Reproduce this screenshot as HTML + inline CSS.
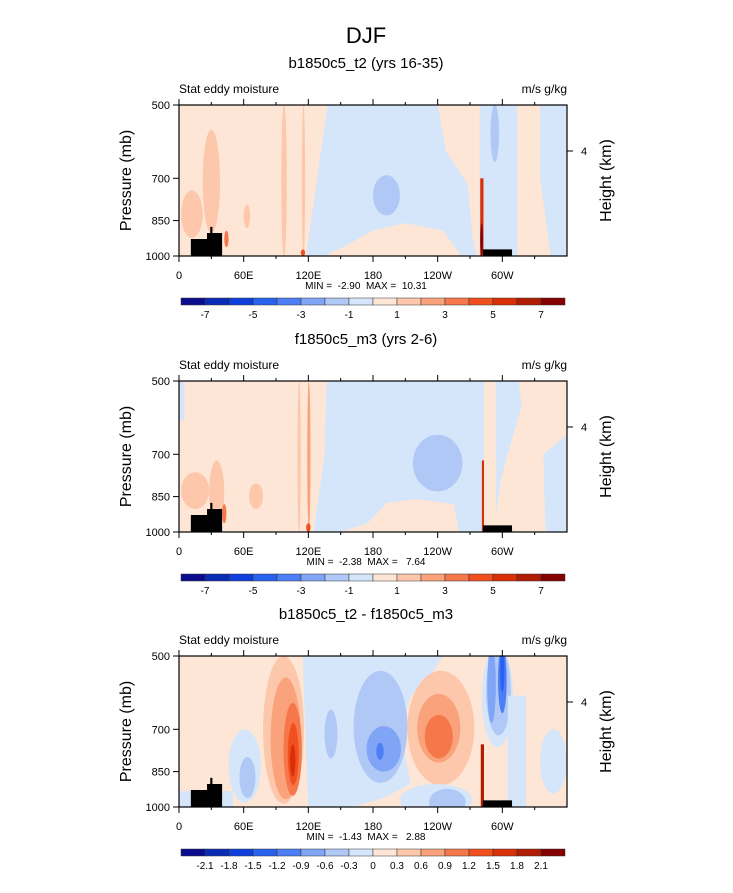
<!DOCTYPE html>
<html><head><meta charset="utf-8"><style>
body{margin:0;background:#fff;}
svg text{font-family:"Liberation Sans Narrow","Liberation Sans",sans-serif;fill:#000;white-space:pre;}
</style></head><body>
<svg id="chart" width="733" height="888" xmlns="http://www.w3.org/2000/svg">
<text x="366" y="43" font-size="22" text-anchor="middle">DJF</text>
</svg>
<script>
const COLORS=["#0c0c8e","#0a2cb4","#0f40de","#2a62f0","#4d7ef5","#80a4f6","#b0c8f6","#d5e6fa","#fde6d5","#fcc7ab","#f9a27b","#f5774a","#f24f1e","#d93008","#b01d04","#850000"];
const xTickLabels=["0","60E","120E","180","120W","60W"];
const xTickLons=[0,60,120,180,240,300];
const pTicks=[500,700,850,1000];
const cbLabels1=["-7","","-5","","-3","","-1","","1","","3","","5","","7"];
const cbLabels3=["-2.1","-1.8","-1.5","-1.2","-0.9","-0.6","-0.3","0","0.3","0.6","0.9","1.2","1.5","1.8","2.1"];
const titles=["b1850c5_t2 (yrs 16-35)","f1850c5_m3 (yrs 2-6)","b1850c5_t2 - f1850c5_m3"];
const minmax=["MIN =  -2.90  MAX =  10.31","MIN =  -2.38  MAX =   7.64","MIN =  -1.43  MAX =   2.88"];
const panelTops=[105,381,656];
const shapes1=[
['p',[[138,500],[240,500],[248,620],[268,720],[272,900],[276,1000],[262,1000],[245,890],[210,860],[180,890],[152,960],[135,1000],[118,1000],[128,700]],7],
['e',180,205,690,830,6],
['r',279,314,500,1000,7],['e',289,297,500,650,6],
['p',[[335,500],[360,500],[360,1000],[345,1000],[335,700]],7],
['e',2,22,740,920,9],['e',22,38,560,900,9],['e',60,66,790,880,9],['e',95,100,500,1000,9],['e',114,117,500,1000,9],
['e',42,46,890,960,11],
['r',279.5,282.5,700,1000,13],['e',279.5,282,860,1000,15],['e',113,117,970,1000,12]
];
const shapes2=[
['p',[[137,500],[315,500],[318,560],[305,700],[298,800],[292,1000],[260,1000],[255,880],[220,860],[193,875],[175,960],[150,1000],[125,1000],[135,700]],7],
['e',217,263,640,830,6],
['r',283,294,500,1000,8],
['p',[[338,700],[360,640],[360,1000],[340,1000]],7],
['r',0,5,500,600,7],
['e',2,28,760,900,9],['e',28,42,720,960,9],['e',65,78,800,900,9],['e',110,113,500,1000,9],['e',119,122,500,1000,10],
['e',40,44,880,960,11],
['r',281,283,720,1000,13],['e',118,122,960,1000,12]
];
const shapes3=[
['p',[[115,500],[245,500],[230,560],[215,600],[205,700],[215,900],[190,960],[160,1000],[120,1000],[118,800]],7],
['e',78,116,500,985,9],['e',85,113,552,965,10],['e',97,114,620,950,11],['e',101,111,680,905,12],['e',103,108,750,870,13],
['e',162,212,535,895,6],['e',174,206,690,850,5],['e',183,190,745,805,4],['e',135,147,640,800,6],
['e',212,274,535,905,9],['e',221,261,595,815,10],['e',228,254,655,800,11],
['e',46,76,700,980,7],['e',56,71,795,960,6],
['r',0,50,930,1000,7],
['e',281,310,480,760,7],['e',285,308,480,720,6],['e',286,294,480,680,5],['e',296,304,480,650,4],['e',298,302,480,590,3],
['r',305,322,600,1000,7],['e',335,360,700,940,7],
['e',205,272,900,1040,7],['e',232,266,920,1040,6],
['r',280,283,750,1000,14]
];
const allShapes=[shapes1,shapes2,shapes3];
const L=179,R=567,H=151;
const svg=document.getElementById('chart');
const NS="http://www.w3.org/2000/svg";
function xS(lon){return L+(R-L)*lon/360;}
function yS(p,top){return top+H*Math.log2(p/500);}
function mk(tag,attrs,parent){const e=document.createElementNS(NS,tag);for(const k in attrs)e.setAttribute(k,attrs[k]);(parent||svg).appendChild(e);return e;}
function txt(s,x,y,size,anchor,parent){const t=mk('text',{x:x,y:y,'font-size':size,'text-anchor':anchor||'start'},parent);t.textContent=s;return t;}
for(let i=0;i<3;i++){
 const top=panelTops[i],bot=top+H;
 const g=mk('g',{});
 
 
 const st=txt(titles[i],366,top-37,15,'middle',g);
 
 
 const lt=txt("Stat eddy moisture",L,top-12,12,'start',g);
 
 
 const rt=txt("m/s g/kg",R,top-12,12,'end',g);
 
 
 const cp=mk('clipPath',{id:'cp'+i},g);mk('rect',{x:L,y:top,width:R-L,height:H},cp);
 const plot=mk('g',{'clip-path':'url(#cp'+i+')'},g);
 
 
 mk('rect',{x:L,y:top,width:R-L,height:H,fill:COLORS[8]},plot);
 for(const s of allShapes[i]){
  let el;
  if(s[0]==='e'){const x0=xS(s[1]),x1=xS(s[2]),y0=yS(s[3],top),y1=yS(s[4],top);
   el=mk('ellipse',{cx:(x0+x1)/2,cy:(y0+y1)/2,rx:(x1-x0)/2,ry:(y1-y0)/2,fill:COLORS[s[5]]},plot);}
  else if(s[0]==='r'){const x0=xS(s[1]),x1=xS(s[2]),y0=yS(s[3],top),y1=yS(s[4],top);
   el=mk('rect',{x:x0,y:y0,width:x1-x0,height:y1-y0,fill:COLORS[s[5]]},plot);}
  else{el=mk('polygon',{points:s[1].map(q=>xS(q[0])+','+yS(q[1],top)).join(' '),fill:COLORS[s[2]]},plot);}
  
  
 }
 const terr=mk('polygon',{points:[[11,1000],[11,925],[26,925],[26,900],[29,900],[29,875],[31,875],[31,900],[40,900],[40,1000]].map(q=>xS(q[0])+','+yS(q[1],top)).join(' '),fill:'#000'},g);
 
 
 const terr2=mk('rect',{x:xS(282),y:yS(970,top),width:xS(309)-xS(282),height:bot-yS(970,top),fill:'#000'},g);
 
 
 mk('rect',{x:L,y:top,width:R-L,height:H,fill:'none',stroke:'#000','stroke-width':1.2},g);
 for(let lon=0;lon<=330;lon+=30){const x=xS(lon),len=lon%60===0?6:3;
  mk('line',{x1:x,x2:x,y1:top,y2:top-len,stroke:'#000'},g);
  mk('line',{x1:x,x2:x,y1:bot,y2:bot+len,stroke:'#000'},g);}
 xTickLabels.forEach((s,k)=>{const t=txt(s,xS(xTickLons[k]),bot+23,11,'middle',g);
  });
 pTicks.forEach(p=>{const y=yS(p,top);mk('line',{x1:L,x2:L-6,y1:y,y2:y,stroke:'#000'},g);
  const t=txt(String(p),L-9,y+4,11,'end',g);});
 const yh=top+46;mk('line',{x1:R,x2:R+6,y1:yh,y2:yh,stroke:'#000'},g);
 const h4=txt("4",R+14,yh+4,11,'start',g);
 const yt=txt("Pressure (mb)",0,0,16,'middle',g);yt.setAttribute('transform','translate(131,'+(top+H/2)+') rotate(-90)');
 
 const ht=txt("Height (km)",0,0,16,'middle',g);ht.setAttribute('transform','translate(611,'+(top+H/2)+') rotate(-90)');
 
 const mm=txt(minmax[i],366,bot+33,10,'middle',g);
 const cb=mk('g',{},g);
 const cy=bot+42,cw=24;
 for(let k=0;k<16;k++){const r=mk('rect',{x:181+k*cw,y:cy,width:cw,height:7,fill:COLORS[k],stroke:'#333','stroke-width':0.5},cb);
  }
 const labs=i===2?cbLabels3:cbLabels1;
 labs.forEach((s,k)=>{if(!s)return;const t=txt(s,181+(k+1)*cw,cy+20,10,'middle',cb);
  });
}
</script>
</body></html>
